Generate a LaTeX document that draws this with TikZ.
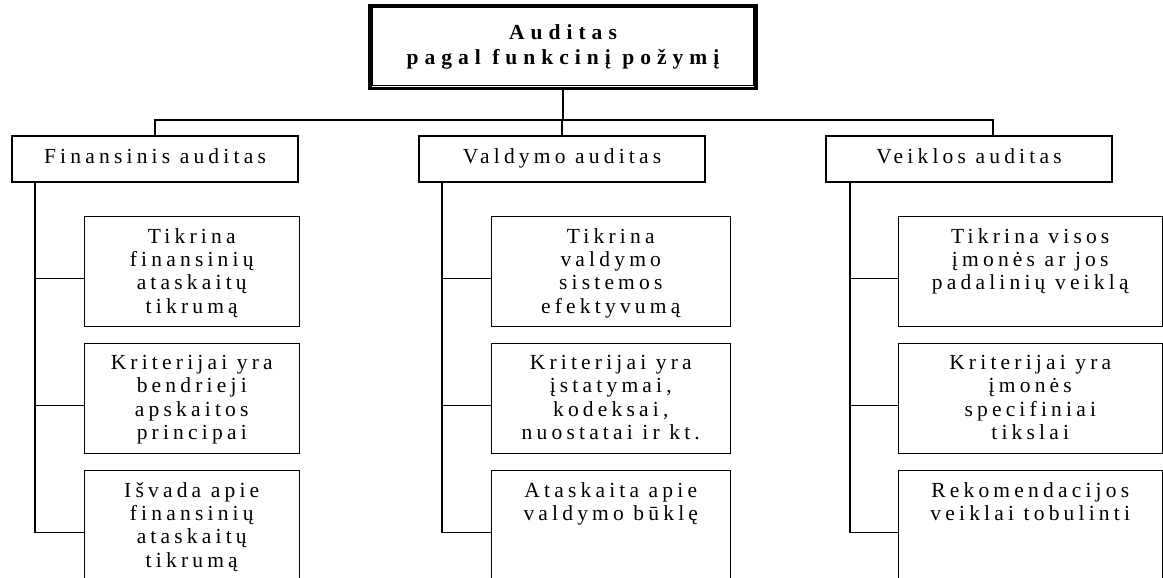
\documentclass[tikz,border=0pt]{standalone}
\usepackage{fontspec}
\setmainfont{Liberation Serif}
\newfontfamily\spacedtext[LetterSpace=19.5]{Liberation Serif}
\newfontfamily\headwide[LetterSpace=28]{Liberation Serif}

\begin{document}
\begin{tikzpicture}[x=1pt,y=-1pt,
  wire/.style={line width=1.3pt, black},
  rootbox/.style={draw, line width=3.4pt, minimum width=386, minimum height=83,
    inner sep=0pt, align=center, font=\headwide\fontsize{21.5}{25.5}\selectfont\bfseries},
  branchbox/.style={draw, line width=2.3pt, minimum width=286, minimum height=46,
    inner sep=0pt, text height=14.5pt, text depth=5pt, font=\spacedtext\fontsize{21.5}{24}\selectfont},
  leafbox/.style={draw, line width=1.3pt, inner sep=0pt, anchor=north west},
  leaftext/.style={font=\spacedtext\fontsize{21.5}{23.4}\selectfont, align=center,
    anchor=north, inner sep=0pt}
]
\clip (0,0) rectangle (1163,578);

% root
\node[rootbox] (root) at (563,47) {Auditas\\pagal funkcinį požymį};
\draw[line width=1pt] ([xshift=4.2pt,yshift=-4.2pt]root.north west)
  rectangle ([xshift=-4.2pt,yshift=4.2pt]root.south east);

% three audit kinds
\node[branchbox] (fin) at (155,159) {Finansinis auditas};
\node[branchbox] (val) at (562,159) {Valdymo auditas};
\node[branchbox] (vei) at (969,159) {Veiklos auditas};

% bus from root to the three kinds
\coordinate (bus) at (563,120);
\coordinate (veitop) at (993,135);
\draw[wire] (root.south) -- (bus);
\draw[wire] (fin.north) |- (bus) -| (veitop);
\draw[wire] (val.north) -- (val.north |- bus);

% leaf boxes
\newcommand{\leafcolumn}[6]{%
  \node[leafbox, minimum width=#2, minimum height=110] (#1a) at (#3,215.6) {};
  \node[leafbox, minimum width=#2, minimum height=110] (#1b) at (#3,342.6) {};
  \node[leafbox, minimum width=#2, minimum height=140] (#1c) at (#3,469.6) {};
  \node[leaftext] (#1at) at ([yshift=-12.3pt]#1a.north) {#4};
  \node[leaftext] (#1bt) at ([yshift=-12.3pt]#1b.north) {#5};
  \node[leaftext] (#1ct) at ([yshift=-12.3pt]#1c.north) {#6};
}

\leafcolumn{f}{215}{83.6}
  {Tikrina\\finansinių\\ataskaitų\\tikrumą}
  {Kriterijai yra\\bendrieji\\apskaitos\\principai}
  {Išvada apie\\finansinių\\ataskaitų\\tikrumą}
\leafcolumn{v}{239}{490.6}
  {Tikrina\\valdymo\\sistemos\\efektyvumą}
  {Kriterijai yra\\įstatymai,\\kodeksai,\\nuostatai ir kt.}
  {Ataskaita apie\\valdymo būklę}
\leafcolumn{w}{264}{897.6}
  {Tikrina visos\\įmonės ar jos\\padalinių veiklą}
  {Kriterijai yra\\įmonės\\specifiniai\\tikslai}
  {Rekomendacijos\\veiklai tobulinti}

% trunks and branches
\coordinate (ftrunk) at ([xshift=24pt]fin.south west);
\coordinate (vtrunk) at ([xshift=24pt]val.south west);
\coordinate (wtrunk) at ([xshift=25pt]vei.south west);
\foreach \col/\tr in {f/ftrunk, v/vtrunk, w/wtrunk}{
  \draw[wire] (\tr) |- ([yshift=-63pt]\col c.north west);
  \draw[wire] ([yshift=-63pt]\col a.north west) -- ([yshift=-63pt]\col a.north west -| \tr);
  \draw[wire] ([yshift=-63pt]\col b.north west) -- ([yshift=-63pt]\col b.north west -| \tr);
}
\end{tikzpicture}
\end{document}
